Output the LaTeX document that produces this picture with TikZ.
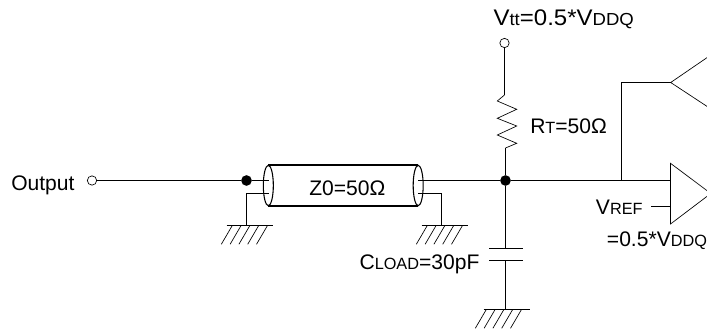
\documentclass[tikz,border=0pt]{standalone}
\usepackage{fontspec}
\setmainfont{Liberation Sans}
\usetikzlibrary{shapes.geometric}

\newcommand{\lowtxt}[1]{{\fontsize{12.2}{14}\selectfont #1}}

\tikzset{
    wire/.style={line width=0.8pt},
    thinline/.style={line width=0.5pt},
    shieldline/.style={line width=1.3pt},
    lbl/.style={anchor=base west, inner sep=0pt, font=\fontsize{15.8}{18}\selectfont},
    term/.style={circle, draw, line width=0.5pt, fill=white, inner sep=0pt, minimum size=7pt},
    junct/.style={circle, fill=black, inner sep=0pt, minimum size=8pt},
    shield/.style={ellipse, draw, line width=0.8pt, fill=white, inner sep=0pt,
        minimum width=7.5pt, minimum height=30.3pt},
    pics/gnd/.style={code={
        \draw[wire] (-20,0) -- (26,0);
        \foreach \i in {0,...,4} {
            \draw[thinline] (#1+21-\i*8.8,0) -- (#1+10-\i*8.8,-18.8);
        }
    }},
    pics/gnd/.default=0,
}

\begin{document}
\begin{tikzpicture}[x=0.75pt, y=0.75pt]
    \useasboundingbox (0,-329) rectangle (707,0);
    \clip (0,-329) rectangle (707,0);

    % input side and the cable
    \node[lbl] (output) at (11,-190) {Output};
    \node[term] (outterm) at (92,-180.5) {};
    \node[inner sep=0pt, minimum width=112pt, minimum height=30.3pt] (cable) at (343.25,-185.5) {};
    \node[lbl] (zval) at (309,-195) {Z0=50Ω};
    \draw[shieldline] (cable.north west) -- (cable.north east);
    \draw[shieldline] (cable.south west) -- (cable.south east);
    \node[shield] (endl) at (cable.west) {};
    \node[shield] (endr) at (cable.east) {};

    \node[junct] (ja) at (246.5,-180.5) {};
    \node[junct] (jb) at (505.5,-180.5) {};
    \coordinate (wl) at (268.5,-180.5);
    \coordinate (wr) at (418,-180.5);
    \draw[wire] (outterm) -- (ja) -- (wl);
    \draw[wire] (wr) -- (jb);

    % cable shields to ground
    \coordinate (gl) at (246.5,-225.5);
    \coordinate (gr) at (441.5,-225.5);
    \coordinate (sl) at (268.5,-193.5);
    \coordinate (sr) at (418,-193.5);
    \draw[wire] (sl) -| (gl);
    \draw[wire] (sr) -| (gr);
    \pic at (gl) {gnd};
    \pic at (gr) {gnd};

    % termination to Vtt
    \node[lbl] (vtt) at (493.3,-25) {\scalebox{1.14}[1.07]{V\lowtxt{tt}=0.5*V\lowtxt{DDQ}}};
    \node[term] (vttterm) at (504.5,-43) {};
    \coordinate (ra) at (504.5,-95);
    \coordinate (rb) at (505.5,-148);
    \draw[wire] (vttterm) -- (ra);
    \draw[thinline] (ra) -- (497.3,-101) -- (516.7,-109.3) -- (497.3,-118.3)
        -- (516.7,-126) -- (497.3,-135) -- (516.7,-143.3) -- (rb);
    \draw[wire] (rb) -- (jb);
    \node[lbl] (rt) at (530,-133) {R\lowtxt{T}=50Ω};

    % load capacitor
    \coordinate (ca) at (505.5,-248.5);
    \coordinate (cb) at (505.5,-260.5);
    \coordinate (gc) at (505.5,-309.5);
    \coordinate (gcbar) at (503.5,-309.5);
    \draw[wire] (jb) -- (ca);
    \draw[wire] (cb) -- (gc);
    \draw[wire] (489,-248.5) -- (ca) -- (522.7,-248.5);
    \draw[wire] (489,-260.5) -- (cb) -- (522.7,-260.5);
    \pic at (gcbar) {gnd=-3};
    \node[lbl] (cload) at (359.3,-269.3) {C\lowtxt{LOAD}=30pF};

    % receivers
    \coordinate (rxin) at (670.5,-180.5);
    \coordinate (tap) at (621.5,-180.5);
    \coordinate (rxup) at (670.7,-82.5);
    \coordinate (vrefin) at (670.5,-206.5);
    \coordinate (vrefstub) at (651,-206.5);
    \draw[wire] (jb) -- (rxin);
    \draw[wire] (tap) |- (rxup);
    \draw[thinline] (707.5,-57.3) -- (rxup) -- (707.5,-106.7);
    \draw[thinline] (707.5,-191) -- (670.5,-163.3) -- (670.5,-224) -- (707.5,-196);
    \draw[wire] (vrefstub) -- (vrefin);
    \node[lbl] (vref) at (595.7,-214.3) {V\lowtxt{REF}};
    \node[lbl] (vrefval) at (606.7,-246.7) {=0.5*V\lowtxt{DDQ}};
\end{tikzpicture}
\end{document}
